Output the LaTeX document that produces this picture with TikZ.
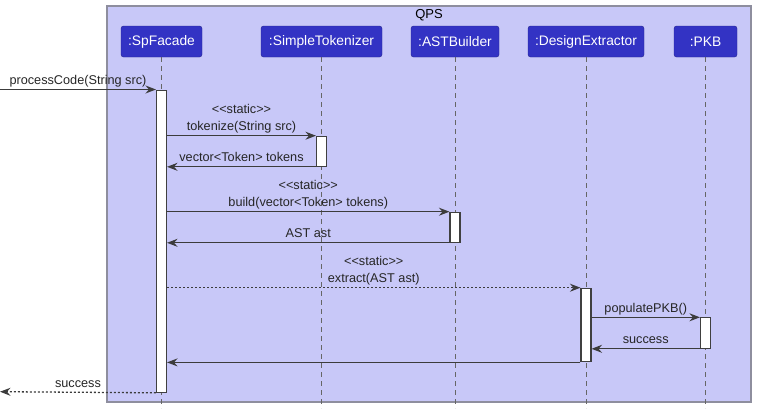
\documentclass[tikz,border=0pt]{standalone}
\usepackage{fontspec}
\setmainfont{Liberation Sans}
\usetikzlibrary{arrows.meta, positioning}
\definecolor{framefill}{HTML}{C8C8F8}
\definecolor{framedraw}{HTML}{8E8E9E}
\definecolor{headfill}{HTML}{3333C4}
\definecolor{headdraw}{HTML}{26268F}
\definecolor{msgline}{HTML}{3C3C3C}

\begin{document}
\begin{tikzpicture}[
  x=1pt, y=-1pt, % 像素坐标:原点在左上,y 向下
  >={Stealth[length=10.5pt, width=8pt, inset=3.5pt]},
  frame/.style={draw=framedraw, fill=framefill, line width=1.5pt, inner sep=0pt},
  headbox/.style={draw=headdraw, fill=headfill, rounded corners=2.5pt, minimum height=31pt, inner sep=0pt, text=white, font=\fontsize{13.8}{16}\selectfont},
  actbox/.style={draw=black!75, fill=white, line width=1.1pt, minimum width=10pt, inner sep=0pt, anchor=north},
  lifeline/.style={draw=black!60, line width=0.8pt, dash pattern=on 5pt off 4pt},
  msg/.style={->, draw=msgline, line width=1.3pt},
  msgdot/.style={msg, dash pattern=on 2pt off 2pt},
  mlabel/.style={midway, above, inner sep=1.5pt, font=\fontsize{12.7}{17}\selectfont, text=black!85},
  mlabel1/.style={mlabel, text height=9.2pt, text depth=2.8pt},
  mlabel2/.style={mlabel, align=center}
]
  \useasboundingbox (0,0) rectangle (757,416);

  % 外框 QPS
  \node[frame, minimum width=644pt, minimum height=396pt] (qpsFrame) at (429,204) {};
  \node[font=\fontsize{13}{15}\selectfont, below=1pt of qpsFrame.north] (qpsTitle) {QPS};

  % 对象头与生命线
  \foreach \n/\x/\w/\t in {sp/161.5/81/SpFacade, tok/321.5/121/SimpleTokenizer,
                           ast/455/88/ASTBuilder, de/586/116/DesignExtractor, pkb/705.5/63/PKB} {
    \node[headbox, minimum width=\w pt] (\n Head) at (\x,41.5) {:\t};
    \draw[lifeline] (\n Head.south) -- ++(0,351);
  }

  % 激活条
  \node[actbox, minimum height=302.2pt] (spAct)  at (spHead |- 0,89.5)   {};
  \node[actbox, minimum height=30pt]    (tokAct) at (tokHead |- 0,135.7) {};
  \node[actbox, minimum height=30pt]    (astAct) at (astHead |- 0,211.7) {};
  \node[actbox, minimum height=73.6pt]  (deAct)  at (deHead |- 0,287.7)  {};
  \node[actbox, minimum height=30.4pt]  (pkbAct) at (pkbHead |- 0,317.3) {};

  % 消息
  \coordinate (inStart) at (0,89.5);
  \coordinate (outEnd)  at (0,391.7);
  \draw[msg] (inStart) -- (spAct.north west) node[mlabel1] {processCode(String src)};
  \draw[msg] (spAct.east |- tokAct.north) -- (tokAct.north west)
    node[mlabel2] {<{}<static>{}>\\tokenize(String src)};
  \draw[msg] (tokAct.south west) -- (spAct.east |- tokAct.south) node[mlabel1] {vector<Token> tokens};
  \draw[msg] (spAct.east |- astAct.north) -- (astAct.north west)
    node[mlabel2] {<{}<static>{}>\\build(vector<Token> tokens)};
  \draw[msg] (astAct.south west) -- (spAct.east |- astAct.south) node[mlabel1] {AST ast};
  \draw[msgdot] (spAct.east |- deAct.north) -- (deAct.north west)
    node[mlabel2] {<{}<static>{}>\\extract(AST ast)};
  \draw[msg] (deAct.east |- pkbAct.north) -- (pkbAct.north west) node[mlabel1] {populatePKB()};
  \draw[msg] (pkbAct.south west) -- (deAct.east |- pkbAct.south) node[mlabel1] {success};
  \draw[msg] (deAct.south west) -- (spAct.east |- deAct.south);
  \draw[msgdot] (spAct.south west) -- (outEnd) node[mlabel1] {success};
\end{tikzpicture}
\end{document}
